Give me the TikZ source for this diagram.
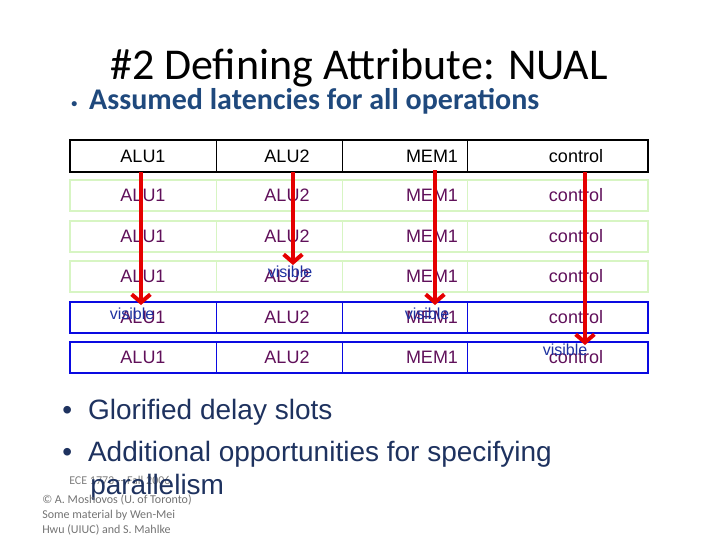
\documentclass[tikz,border=0pt]{standalone}
\usepackage{fontspec}
\setmainfont{Liberation Sans}
\newfontfamily\calfont{Carlito}
\definecolor{pur}{RGB}{96,16,90}
\definecolor{tblue}{RGB}{31,73,125}
\definecolor{vis}{RGB}{30,50,160}
\definecolor{lgr}{RGB}{215,245,195}
\definecolor{bl}{RGB}{10,10,225}
\definecolor{txt}{RGB}{30,50,95}
\usetikzlibrary{arrows.meta}
\tikzset{cell/.style={anchor=center,text height=9pt,text depth=0pt,font=\fontsize{13.5}{15}\selectfont},
 arr/.style={red!90!black,line width=3pt,-{Straight Barb[length=6pt,width=14pt,line width=3pt]}},
 vl/.style={text=vis,font=\fontsize{12}{13}\selectfont,inner sep=0pt},
 bul/.style={anchor=west,text=txt,font=\fontsize{21}{24}\selectfont,inner sep=0pt}}
\begin{document}
\begin{tikzpicture}[x=0.75pt,y=-0.75pt]
\useasboundingbox (0,0) rectangle (720,540);
\node[font=\calfont\fontsize{33}{36}\selectfont,inner sep=0pt] (title) at (359,68) {\#2 Defining Attribute: NUAL};
\node[anchor=west,text=tblue,font=\calfont\bfseries\fontsize{22.5}{26}\selectfont,inner sep=0pt] (b0) at (71,101) {\raisebox{1pt}{\small•}\hspace{9pt}Assumed latencies for all operations};
\foreach \t/\b/\c/\w/\tc [count=\i] in {140/172/black/2.2pt/black,180/211/lgr/1.6pt/pur,221/252/lgr/1.6pt/pur,261/292/lgr/1.6pt/pur,302/333/bl/2.2pt/pur,342/373/bl/2.2pt/pur}{
 \draw[\c,line width=\w] (70,\t) rectangle (648,\b);
 \foreach \x in {216,342,467} \draw[\c,line width=0.5pt] (\x,\t) -- (\x,\b);
 \node[cell,text=\tc] (a\i) at (143,{(\t+\b)/2}) {ALU1};
 \node[cell,text=\tc] (l\i) at (287,{(\t+\b)/2}) {ALU2};
 \node[cell,text=\tc] (m\i) at (432,{(\t+\b)/2}) {MEM1};
 \node[cell,text=\tc] (c\i) at (576,{(\t+\b)/2}) {control};
}
\coordinate (e1) at (141,305); \coordinate (e2) at (293,265);
\coordinate (e3) at (435,305); \coordinate (e4) at (585,345);
\draw[arr] (141,172) -- (e1);
\draw[arr] (293,172) -- (e2);
\draw[arr] (435,170) -- (e3);
\draw[arr] (585,172) -- (e4);
\node[vl] (v1) at (132,314) {visible};
\node[vl] (v2) at (290,272) {visible};
\node[vl] (v3) at (427,314) {visible};
\node[vl] (v4) at (565,350) {visible};
\node[bul] (b1) at (62,412) {•\hspace{12pt}Glorified delay slots};
\node[bul] (b2) at (62,454) {•\hspace{12pt}Additional opportunities for specifying};
\node[anchor=west,text=gray,font=\calfont\fontsize{9}{10}\selectfont,inner sep=0pt] (f0) at (69,480) {ECE 1773 -- Fall 2006};
\node[bul] (b3) at (90,487) {parallelism};
\node[anchor=north west,text=gray!90!black,align=left,font=\calfont\fontsize{9}{11.5}\selectfont,inner sep=0pt] (f1) at (42,494) {© A. Moshovos (U. of Toronto)\\Some material by Wen-Mei\\Hwu (UIUC) and S. Mahlke};
\end{tikzpicture}
\end{document}
